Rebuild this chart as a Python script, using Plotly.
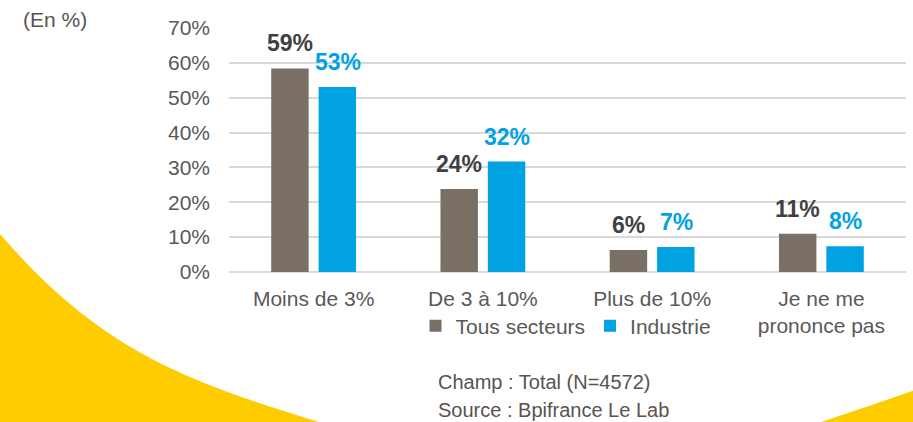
import plotly.graph_objects as go

categories = ["Moins de 3%", "De 3 à 10%", "Plus de 10%", "Je ne me<br>prononce pas"]
tous_secteurs = [58.4, 23.8, 6.3, 11.0]
industrie = [53.1, 31.7, 7.2, 7.4]
tous_labels = ["59%", "24%", "6%", "11%"]
industrie_labels = ["53%", "32%", "7%", "8%"]
y_ticks = [0, 10, 20, 30, 40, 50, 60, 70]
y_tick_labels = ["0%", "10%", "20%", "30%", "40%", "50%", "60%", "70%"]

GRAY = "#796f64"
BLUE = "#00a2e1"
TEXT = "#595959"
NOTE = "#5a5250"
FONT = "Liberation Sans, Arial, sans-serif"

W, H = 913, 422
L, R, T, B = 229, 7, 28, 150
PW, PH = W - L - R, H - T - B


def px(x):
    return (x - L) / PW


def py(y):
    return (H - B - y) / PH


fig = go.Figure()
fig.add_trace(go.Bar(name="Tous secteurs", x=categories, y=tous_secteurs,
                     marker=dict(color=GRAY, line=dict(width=0)), hoverinfo="skip"))
fig.add_trace(go.Bar(name="Industrie", x=categories, y=industrie,
                     marker=dict(color=BLUE, line=dict(width=0)), hoverinfo="skip"))

annotations = []
for c, v, t in zip(categories, tous_secteurs, tous_labels):
    annotations.append(dict(x=c, y=v, xref="x", yref="y", text=f"<b>{t}</b>", showarrow=False,
                            xshift=-24, yshift=25, yanchor="middle",
                            font=dict(family=FONT, size=23, color="#404040")))
for c, v, t in zip(categories, industrie, industrie_labels):
    annotations.append(dict(x=c, y=v, xref="x", yref="y", text=f"<b>{t}</b>", showarrow=False,
                            xshift=24, yshift=25, yanchor="middle",
                            font=dict(family=FONT, size=23, color=BLUE)))

annotations.append(dict(x=px(21), y=py(20), xref="paper", yref="paper", text="(En %)",
                        showarrow=False, xanchor="left", yanchor="middle",
                        font=dict(family=FONT, size=21, color=NOTE)))
annotations.append(dict(x=px(436), y=py(382), xref="paper", yref="paper",
                        text="Champ : Total (N=4572)", showarrow=False, xanchor="left",
                        yanchor="middle", font=dict(family=FONT, size=20, color=NOTE)))
annotations.append(dict(x=px(436), y=py(410), xref="paper", yref="paper",
                        text="Source : Bpifrance Le Lab", showarrow=False, xanchor="left",
                        yanchor="middle", font=dict(family=FONT, size=20, color=NOTE)))

# decorative yellow background curves
left_path = (f"M {px(-5)},{py(228)} C {px(100)},{py(353)} {px(190)},{py(382)} {px(322)},{py(423)} "
             f"L {px(322)},{py(430)} L {px(-5)},{py(430)} Z")
right_path = (f"M {px(818)},{py(423)} Q {px(870)},{py(406)} {px(918)},{py(389)} "
              f"L {px(918)},{py(430)} L {px(818)},{py(430)} Z")
shapes = [
    dict(type="path", path=left_path, xref="paper", yref="paper", fillcolor="#ffcc00",
         line=dict(width=0), layer="below"),
    dict(type="path", path=right_path, xref="paper", yref="paper", fillcolor="#ffcc00",
         line=dict(width=0), layer="below"),
]

fig.update_layout(
    width=W, height=H,
    margin=dict(l=L, r=R, t=T, b=B, pad=0),
    paper_bgcolor="white", plot_bgcolor="rgba(0,0,0,0)",
    barmode="group", bargap=0.44, bargroupgap=0.21,
    font=dict(family=FONT, size=21, color=TEXT),
    showlegend=True,
    legend=dict(orientation="h", x=px(566), y=py(326), xanchor="center", yanchor="middle",
                font=dict(family=FONT, size=21, color=TEXT), bgcolor="rgba(0,0,0,0)",
                itemclick=False, traceorder="normal"),
    annotations=annotations,
    shapes=shapes,
    xaxis=dict(showgrid=False, showline=False, ticks="",
               tickfont=dict(family=FONT, size=21, color=TEXT),
               ticklabelstandoff=12, zeroline=False),
    yaxis=dict(range=[0, 70], tickvals=y_ticks, ticktext=y_tick_labels, showgrid=True,
               gridcolor="#d9d9d9", gridwidth=1.5, zeroline=True, zerolinecolor="#d9d9d9",
               zerolinewidth=1.5, showline=False, ticks="", ticklabelstandoff=18,
               tickfont=dict(family=FONT, size=21, color=TEXT)),
)

fig.write_html("out.html", config={"displayModeBar": False},
               post_script="document.body.style.margin='0';document.body.style.overflow='hidden';")
